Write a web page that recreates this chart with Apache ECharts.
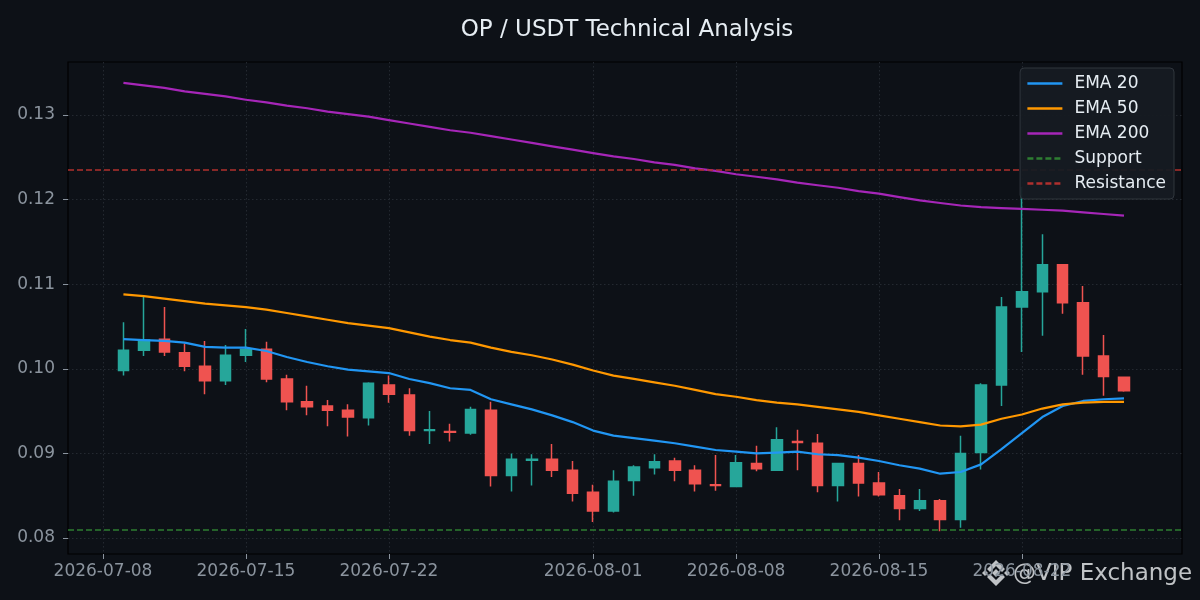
<!DOCTYPE html>
<html>
<head>
<meta charset="utf-8">
<title>OP / USDT Technical Analysis</title>
<script src="https://cdn.jsdelivr.net/npm/echarts@6/dist/echarts.min.js"></script>
<style>
html, body { margin: 0; padding: 0; background: #0d1117; }
#chart { width: 1200px; height: 600px; }
</style>
</head>
<body>
<div id="chart"></div>
<script>
// daily candles
var dates = [
    '2026-07-09', '2026-07-10', '2026-07-11', '2026-07-12', '2026-07-13', '2026-07-14', '2026-07-15',
    '2026-07-16', '2026-07-17', '2026-07-18', '2026-07-19', '2026-07-20', '2026-07-21', '2026-07-22',
    '2026-07-23', '2026-07-24', '2026-07-25', '2026-07-26', '2026-07-27', '2026-07-28', '2026-07-29',
    '2026-07-30', '2026-07-31', '2026-08-01', '2026-08-02', '2026-08-03', '2026-08-04', '2026-08-05',
    '2026-08-06', '2026-08-07', '2026-08-08', '2026-08-09', '2026-08-10', '2026-08-11', '2026-08-12',
    '2026-08-13', '2026-08-14', '2026-08-15', '2026-08-16', '2026-08-17', '2026-08-18', '2026-08-19',
    '2026-08-20', '2026-08-21', '2026-08-22', '2026-08-23', '2026-08-24', '2026-08-25', '2026-08-26',
    '2026-08-27'
];
var opens = [
    0.0998, 0.1022, 0.1035, 0.1019, 0.1003, 0.0986, 0.1016, 0.1023, 0.0988, 0.0961,
    0.0956, 0.0951, 0.0942, 0.0981, 0.0969, 0.0927, 0.0926, 0.0924, 0.0951, 0.0874,
    0.0892, 0.0893, 0.0880, 0.0854, 0.0832, 0.0868, 0.0883, 0.0891, 0.0880, 0.0863,
    0.0861, 0.0888, 0.0880, 0.0914, 0.0912, 0.0862, 0.0888, 0.0865, 0.0850, 0.0835,
    0.0844, 0.0822, 0.0901, 0.0981, 0.1073, 0.1091, 0.1123, 0.1078, 0.1015, 0.0990
];
var closes = [
    0.1022, 0.1034, 0.1020, 0.1003, 0.0986, 0.1016, 0.1023, 0.0988, 0.0961, 0.0955,
    0.0951, 0.0943, 0.0983, 0.0970, 0.0927, 0.0928, 0.0925, 0.0952, 0.0874, 0.0893,
    0.0893, 0.0880, 0.0853, 0.0832, 0.0867, 0.0884, 0.0890, 0.0880, 0.0864, 0.0862,
    0.0889, 0.0882, 0.0916, 0.0913, 0.0862, 0.0888, 0.0865, 0.0851, 0.0835, 0.0844,
    0.0822, 0.0900, 0.0981, 0.1073, 0.1091, 0.1123, 0.1078, 0.1015, 0.0991, 0.0974
];
var lows = [
    0.0992, 0.1015, 0.1015, 0.0997, 0.0970, 0.0981, 0.1008, 0.0984, 0.0951, 0.0945,
    0.0932, 0.0920, 0.0933, 0.0960, 0.0921, 0.0911, 0.0914, 0.0922, 0.0861, 0.0855,
    0.0862, 0.0872, 0.0843, 0.0819, 0.0830, 0.0850, 0.0875, 0.0867, 0.0855, 0.0856,
    0.0860, 0.0879, 0.0880, 0.0880, 0.0854, 0.0843, 0.0849, 0.0849, 0.0821, 0.0832,
    0.0808, 0.0812, 0.0881, 0.0956, 0.1020, 0.1039, 0.1065, 0.0993, 0.0968, 0.0973
];
var highs = [
    0.1055, 0.1085, 0.1073, 0.1030, 0.1033, 0.1028, 0.1047, 0.1032, 0.0993, 0.0980,
    0.0963, 0.0958, 0.0984, 0.0992, 0.0977, 0.0950, 0.0935, 0.0955, 0.0961, 0.0900,
    0.0899, 0.0911, 0.0891, 0.0863, 0.0880, 0.0886, 0.0899, 0.0895, 0.0886, 0.0898,
    0.0898, 0.0909, 0.0931, 0.0928, 0.0923, 0.0889, 0.0898, 0.0878, 0.0858, 0.0858,
    0.0846, 0.0921, 0.0983, 0.1085, 0.1215, 0.1159, 0.1123, 0.1098, 0.1040, 0.0990
];
var ema20 = [
    0.1035, 0.1034, 0.1033, 0.1031, 0.1026, 0.1025, 0.1025, 0.1021, 0.1014, 0.1008,
    0.1003, 0.0999, 0.0997, 0.0995, 0.0988, 0.0983, 0.0977, 0.0975, 0.0964, 0.0958,
    0.0952, 0.0945, 0.0937, 0.0927, 0.0921, 0.0918, 0.0915, 0.0912, 0.0908, 0.0904,
    0.0902, 0.0900, 0.0901, 0.0902, 0.0899, 0.0898, 0.0895, 0.0891, 0.0886, 0.0882,
    0.0876, 0.0878, 0.0887, 0.0905, 0.0924, 0.0943, 0.0956, 0.0962, 0.0964, 0.0965
];
var ema50 = [
    0.1088, 0.1086, 0.1083, 0.1080, 0.1077, 0.1075, 0.1073, 0.1070, 0.1066, 0.1062,
    0.1058, 0.1054, 0.1051, 0.1048, 0.1043, 0.1038, 0.1034, 0.1031, 0.1025, 0.1020,
    0.1016, 0.1011, 0.1005, 0.0998, 0.0992, 0.0988, 0.0984, 0.0980, 0.0975, 0.0970,
    0.0967, 0.0963, 0.0960, 0.0958, 0.0955, 0.0952, 0.0949, 0.0945, 0.0941, 0.0937,
    0.0933, 0.0932, 0.0934, 0.0941, 0.0946, 0.0953, 0.0958, 0.0960, 0.0961, 0.0961
];
var ema200 = [
    0.1338, 0.1335, 0.1332, 0.1328, 0.1325, 0.1322, 0.1318, 0.1315, 0.1311, 0.1308,
    0.1304, 0.1301, 0.1298, 0.1294, 0.1290, 0.1286, 0.1282, 0.1279, 0.1275, 0.1271,
    0.1267, 0.1263, 0.1259, 0.1255, 0.1251, 0.1248, 0.1244, 0.1241, 0.1237, 0.1234,
    0.1230, 0.1227, 0.1224, 0.1220, 0.1217, 0.1214, 0.1210, 0.1207, 0.1203, 0.1199,
    0.1196, 0.1193, 0.1191, 0.1190, 0.1189, 0.1188, 0.1187, 0.1185, 0.1183, 0.1181
];
var SUPPORT = 0.08095;
var RESISTANCE = 0.1235;
var yTicks = [0.08, 0.09, 0.10, 0.11, 0.12, 0.13];
var xTicks = ['2026-07-08', '2026-07-15', '2026-07-22', '2026-08-01', '2026-08-08', '2026-08-15', '2026-08-22'];

var DAY = 86400000;
var FONT = 'DejaVu Sans';
var LABEL = '#8b949e';
var MARK = 'rgba(232,234,237,0.82)';

function ts(d) { return Date.parse(d + 'T00:00:00Z'); }
function pad(n) { return n < 10 ? '0' + n : '' + n; }
function fmtDate(v) {
    var d = new Date(v);
    return d.getUTCFullYear() + '-' + pad(d.getUTCMonth() + 1) + '-' + pad(d.getUTCDate());
}
function pairs(arr) {
    return dates.map(function (d, i) { return [ts(d), arr[i]]; });
}

var candles = dates.map(function (d, i) {
    return [ts(d), opens[i], closes[i], lows[i], highs[i]];
});

function lineSeries(name, arr, color) {
    return {
        name: name,
        type: 'line',
        data: pairs(arr),
        symbol: 'none',
        lineStyle: { color: color, width: 2.2 },
        itemStyle: { color: color }
    };
}
function levelSeries(name, value, color) {
    return {
        name: name,
        type: 'line',
        data: [],
        symbol: 'none',
        lineStyle: { color: color, width: 1.6, type: [6, 3] },
        itemStyle: { color: color },
        markLine: {
            silent: true,
            precision: 6,
            symbol: ['none', 'none'],
            label: { show: false },
            lineStyle: { color: color, width: 1.6, type: [6, 3] },
            data: [{ yAxis: value }]
        }
    };
}

var chart = echarts.init(document.getElementById('chart'));
var option = {
    animation: false,
    backgroundColor: '#0d1117',
    title: {
        text: 'OP / USDT Technical Analysis',
        left: 622,
        textAlign: 'center',
        top: 14,
        textStyle: { color: '#e6edf3', fontSize: 23, fontWeight: 'normal', fontFamily: FONT }
    },
    grid: {
        left: 68, right: 18, top: 62, bottom: 46,
        show: true,
        borderColor: '#000',
        borderWidth: 1.2,
        backgroundColor: '#0d1117'
    },
    legend: {
        data: ['EMA 20', 'EMA 50', 'EMA 200', 'Support', 'Resistance'],
        orient: 'vertical',
        right: 26,
        top: 68,
        backgroundColor: 'rgba(22,27,34,0.95)',
        borderColor: '#30363d',
        borderWidth: 1,
        borderRadius: 4,
        padding: [7, 8, 7, 6],
        itemWidth: 35,
        itemHeight: 14,
        itemGap: 8,
        itemStyle: { color: 'rgba(0,0,0,0)', borderColor: 'rgba(0,0,0,0)', borderWidth: 0 },
        lineStyle: { width: 2.6 },
        textStyle: { color: '#e6edf3', fontSize: 17, fontFamily: FONT, padding: [0, 0, 0, 7] },
        z: 10
    },
    xAxis: {
        type: 'value',
        min: ts('2026-07-08') - 1.714 * DAY,
        max: ts('2026-07-08') + 52.84 * DAY,
        axisLine: { show: false },
        axisTick: {
            show: true, length: 5,
            lineStyle: { color: LABEL },
            customValues: xTicks.map(ts)
        },
        axisLabel: {
            color: LABEL, fontSize: 17, fontFamily: FONT, margin: 9,
            customValues: xTicks.map(ts),
            formatter: function (v) { return fmtDate(v); }
        },
        splitLine: { show: true, lineStyle: { color: '#2b3039', type: [1.5, 2.5], width: 0.8 } }
    },
    yAxis: {
        type: 'value',
        min: 0.078109,
        max: 0.136265,
        axisLine: { show: false },
        axisTick: {
            show: true, length: 5,
            lineStyle: { color: LABEL },
            customValues: yTicks
        },
        axisLabel: {
            color: LABEL, fontSize: 17, fontFamily: FONT, margin: 13,
            customValues: yTicks,
            formatter: function (v) { return v.toFixed(2); }
        },
        splitLine: { show: true, lineStyle: { color: '#2b3039', type: [1.5, 2.5], width: 0.8 } }
    },
    series: [
        {
            name: 'OP/USDT',
            type: 'candlestick',
            data: candles,
            barWidth: 11,
            itemStyle: {
                color: '#26a69a',
                color0: '#ef5350',
                borderColor: '#26a69a',
                borderColor0: '#ef5350',
                borderWidth: 1.5
            }
        },
        lineSeries('EMA 20', ema20, '#2196f3'),
        lineSeries('EMA 50', ema50, '#ff9800'),
        lineSeries('EMA 200', ema200, '#a626b8'),
        levelSeries('Support', SUPPORT, '#2e7d32'),
        levelSeries('Resistance', RESISTANCE, '#b0302e')
    ],
    graphic: [
        {
            type: 'group',
            z: 100,
            silent: true,
            children: [
                { type: 'polygon', shape: { points: [[996, 569], [1000, 573], [996, 577], [992, 573]] }, style: { fill: MARK } },
                { type: 'polygon', shape: { points: [[985, 570], [988, 573], [985, 576], [982, 573]] }, style: { fill: MARK } },
                { type: 'polygon', shape: { points: [[1007, 570], [1010, 573], [1007, 576], [1004, 573]] }, style: { fill: MARK } },
                { type: 'polygon', shape: { points: [[987, 569], [996, 560], [1005, 569], [1002, 572], [996, 566], [990, 572]] }, style: { fill: MARK } },
                { type: 'polygon', shape: { points: [[987, 577], [996, 586], [1005, 577], [1002, 574], [996, 580], [990, 574]] }, style: { fill: MARK } },
                {
                    type: 'text',
                    style: {
                        text: '@VIP Exchange',
                        x: 1013, y: 574,
                        verticalAlign: 'middle',
                        font: '23px "DejaVu Sans"',
                        fill: MARK
                    }
                }
            ]
        }
    ]
};
chart.setOption(option);
</script>
</body>
</html>
